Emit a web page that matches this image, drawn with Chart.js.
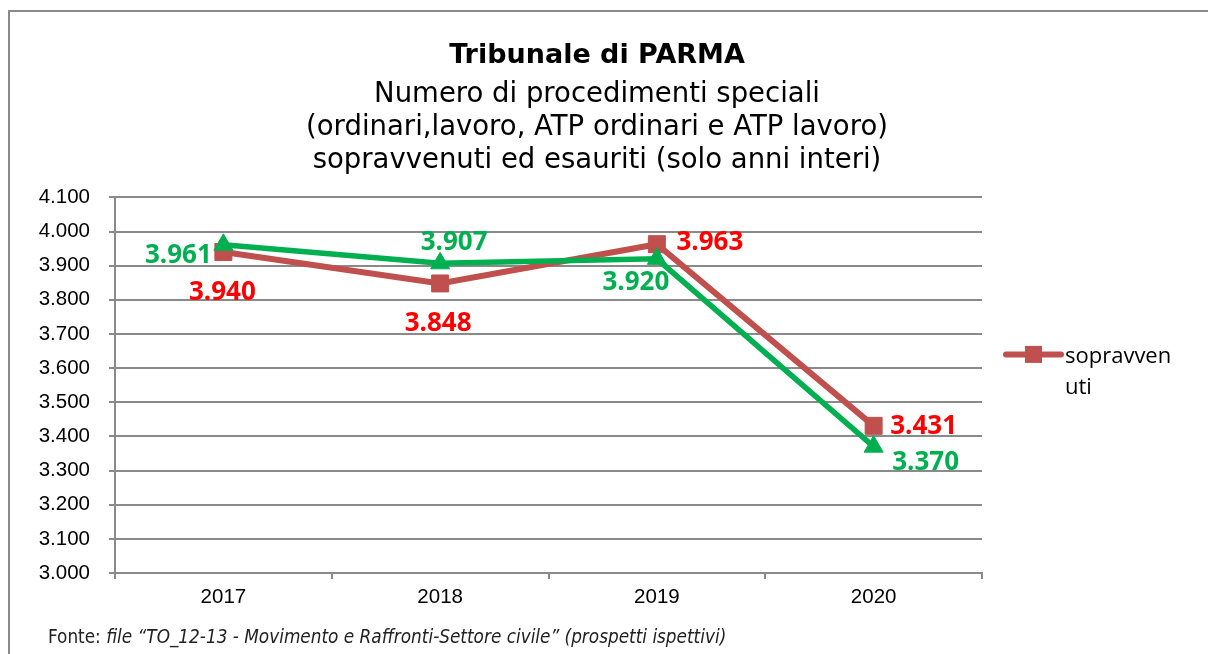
<!DOCTYPE html>
<html>
<head>
<meta charset="utf-8">
<script src="https://cdn.jsdelivr.net/npm/chart.js@4.4.0/dist/chart.umd.min.js"></script>
<style>
  html, body { margin: 0; padding: 0; background: #fff; overflow: hidden; }
  #wrap { position: relative; width: 1208px; height: 654px; overflow: hidden; }
  #frame { position: absolute; left: 8px; top: 10px; width: 1300px; height: 700px; border: 2px solid #8a8a8a; }
  canvas { position: absolute; left: 0; top: 0; }
  #fonte { position: absolute; left: 48px; top: 625px; font: 18.8px/24px "DejaVu Sans Condensed", "DejaVu Sans", sans-serif; color: #222; white-space: nowrap; }
</style>
</head>
<body>
<div id="wrap">
  <div id="frame"></div>
  <canvas id="chart" width="1208" height="654"></canvas>
  <div id="fonte">Fonte: <i>file “TO_12-13 - Movimento e Raffronti-Settore civile” (prospetti ispettivi)</i></div>
</div>
<script>
// values
const years = ["2017", "2018", "2019", "2020"];
const sopravvenuti = [3940, 3848, 3963, 3431];
const esauriti = [3961, 3907, 3920, 3370];
const yTicks = [3000, 3100, 3200, 3300, 3400, 3500, 3600, 3700, 3800, 3900, 4000, 4100];
const legendLines = ["sopravven", "uti"];

// where each value label sits relative to its point (px)
const redLabelOffsets = [[-1, 41], [-2, 40], [53, -2], [50, 1]];
const greenLabelOffsets = [[-45, 11], [14, -21], [-21, 24], [52, 16]];

const GRID = "#8a8a8a";
const fmt = v => String(v).replace(/\B(?=(\d{3})+(?!\d))/g, ".");

const valueLabels = {
  id: "valueLabels",
  afterDatasetsDraw(chart) {
    const ctx = chart.ctx;
    chart.data.datasets.forEach((ds, i) => {
      const meta = chart.getDatasetMeta(i);
      ctx.save();
      ctx.font = "bold 26px 'Open Sans'";
      ctx.fillStyle = ds.labelColor;
      ctx.textAlign = "center";
      ctx.textBaseline = "middle";
      meta.data.forEach((pt, j) => {
        const off = ds.labelOffsets[j];
        ctx.fillText(fmt(ds.data[j]), pt.x + off[0], pt.y + off[1]);
      });
      ctx.restore();
    });
  }
};

// Excel-style legend: only the first series shows, text wrapped
const sideLegend = {
  id: "sideLegend",
  afterDraw(chart) {
    const ctx = chart.ctx;
    const ds = chart.data.datasets[0];
    const area = chart.chartArea;
    const x0 = area.right + 24;
    const y0 = area.top + 157;
    ctx.save();
    ctx.strokeStyle = ds.borderColor;
    ctx.lineWidth = ds.borderWidth;
    ctx.lineCap = "round";
    ctx.beginPath();
    ctx.moveTo(x0, y0);
    ctx.lineTo(x0 + 55, y0);
    ctx.stroke();
    ctx.fillStyle = ds.backgroundColor;
    ctx.fillRect(x0 + 19, y0 - 8.5, 17, 17);
    ctx.fillStyle = "#000";
    ctx.font = "22px 'Open Sans'";
    ctx.textAlign = "left";
    ctx.textBaseline = "middle";
    legendLines.forEach((t, k) => ctx.fillText(t, x0 + 59, y0 + 2 + k * 31));
    ctx.restore();
  }
};

function draw() {
  new Chart(document.getElementById("chart"), {
    type: "line",
    data: {
      labels: years,
      datasets: [
        {
          label: "sopravvenuti",
          data: sopravvenuti,
          borderColor: "#C0504D",
          backgroundColor: "#C0504D",
          borderWidth: 6,
          pointStyle: "rect",
          pointRadius: 12,
          pointBorderWidth: 1,
          tension: 0,
          order: 1,
          labelColor: "#FF0000",
          labelOffsets: redLabelOffsets,
        },
        {
          label: "esauriti",
          data: esauriti,
          borderColor: "#00B050",
          backgroundColor: "#00B050",
          borderWidth: 5.5,
          pointStyle: "triangle",
          pointRadius: 11,
          pointBorderWidth: 1,
          tension: 0,
          order: 0,
          labelColor: "#00B050",
          labelOffsets: greenLabelOffsets,
        },
      ],
    },
    options: {
      responsive: false,
      animation: false,
      events: [],
      layout: { padding: { top: 10, left: 20, right: 34, bottom: 31 } },
      plugins: {
        legend: { display: false },
        tooltip: { enabled: false },
        title: {
          display: true,
          text: "Tribunale di PARMA",
          color: "#000",
          font: { family: "DejaVu Sans", size: 27, weight: "bold", lineHeight: 1.2 },
          padding: { top: 30, bottom: 0 },
        },
        subtitle: {
          display: true,
          text: [
            "Numero di procedimenti speciali",
            "(ordinari,lavoro, ATP ordinari e ATP lavoro)",
            "sopravvenuti ed esauriti (solo anni interi)",
          ],
          color: "#000",
          font: { family: "DejaVu Sans", size: 27.5, weight: "normal", lineHeight: 1.2 },
          padding: { top: 6, bottom: 20 },
        },
      },
      scales: {
        x: {
          offset: true,
          afterFit: s => { s.height = 50; },
          grid: { display: true, drawOnChartArea: false, drawTicks: true, tickLength: 6, color: GRID, lineWidth: 2, offset: true },
          border: { display: true, color: GRID, width: 2 },
          ticks: { color: "#000", padding: 6, font: { family: "Liberation Sans", size: 20.5 } },
        },
        y: {
          min: 3000,
          max: 4100,
          afterFit: s => { s.width = 95; },
          afterBuildTicks: s => { s.ticks = yTicks.map(v => ({ value: v })); },
          grid: { color: GRID, lineWidth: 2, tickLength: 6 },
          border: { display: true, color: GRID, width: 2 },
          ticks: { color: "#000", padding: 19, font: { family: "Liberation Sans", size: 20.5 }, callback: v => fmt(v) },
        },
        // empty axis that only keeps room for the legend on the right
        yRoom: {
          position: "right",
          afterFit: s => { s.width = 192; },
          grid: { display: false },
          border: { display: false },
          ticks: { display: false },
        },
      },
    },
    plugins: [valueLabels, sideLegend],
  });
}

Promise.all([
  document.fonts.load("bold 26px 'Open Sans'"),
  document.fonts.load("22px 'Open Sans'"),
  document.fonts.load("bold 27px 'DejaVu Sans'"),
  document.fonts.load("27px 'DejaVu Sans'"),
  document.fonts.load("20px 'Liberation Sans'"),
]).catch(() => {}).then(draw);
</script>
</body>
</html>
